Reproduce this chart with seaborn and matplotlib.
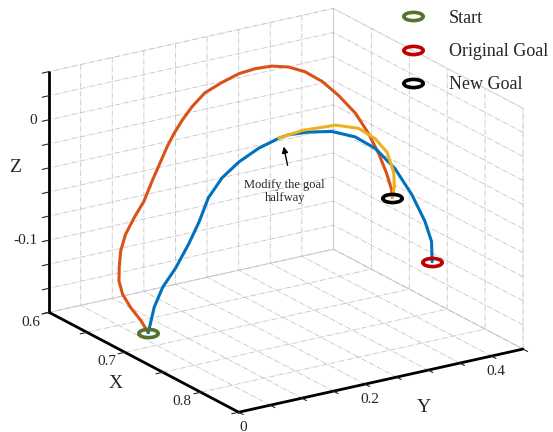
import matplotlib
matplotlib.use("Agg")
import matplotlib.pyplot as plt
import seaborn as sns
from matplotlib.path import Path
from matplotlib.transforms import Affine2D

# trajectories (x, y, z)
blue_x = [0.700, 0.702, 0.704, 0.707, 0.710, 0.713, 0.715, 0.719, 0.723, 0.728, 0.733,
          0.735, 0.740, 0.746, 0.752, 0.757, 0.762, 0.766, 0.769, 0.771, 0.771]
blue_y = [0.037, 0.044, 0.055, 0.072, 0.089, 0.102, 0.114, 0.131, 0.153, 0.178, 0.204,
          0.217, 0.242, 0.272, 0.302, 0.328, 0.353, 0.375, 0.392, 0.400, 0.401]
blue_z = [-0.148, -0.127, -0.111, -0.096, -0.077, -0.059, -0.040, -0.024, -0.012, -0.002, 0.005,
          0.007, 0.008, 0.007, 0.001, -0.010, -0.028, -0.051, -0.074, -0.091, -0.108]

orange_x = [0.700, 0.694, 0.688, 0.682, 0.678, 0.675, 0.672, 0.669, 0.668, 0.666, 0.664, 0.661,
            0.660, 0.659, 0.658, 0.658, 0.661, 0.663, 0.667, 0.671, 0.675, 0.679, 0.686, 0.696,
            0.708, 0.721, 0.734, 0.746, 0.756, 0.761]
orange_y = [0.037, 0.032, 0.024, 0.018, 0.017, 0.021, 0.027, 0.038, 0.053, 0.071, 0.086, 0.114,
            0.126, 0.140, 0.157, 0.177, 0.201, 0.225, 0.246, 0.267, 0.289, 0.310, 0.329, 0.343,
            0.355, 0.360, 0.361, 0.359, 0.355, 0.350]
orange_z = [-0.148, -0.139, -0.130, -0.120, -0.110, -0.100, -0.088, -0.077, -0.065, -0.054, -0.040, -0.015,
            -0.006, 0.003, 0.012, 0.021, 0.028, 0.033, 0.036, 0.037, 0.035, 0.030, 0.022, 0.012,
            0.000, -0.013, -0.026, -0.038, -0.048, -0.052]

yellow_x = [0.733, 0.739, 0.747, 0.753, 0.757, 0.760, 0.762, 0.762, 0.761]
yellow_y = [0.204, 0.234, 0.277, 0.306, 0.328, 0.343, 0.351, 0.352, 0.350]
yellow_z = [0.005, 0.010, 0.012, 0.008, -0.002, -0.014, -0.031, -0.043, -0.052]

start = (0.700, 0.037, -0.148)
orig_goal = (0.771, 0.401, -0.108)
new_goal = (0.761, 0.350, -0.052)

x_ticks = [0.6, 0.65, 0.7, 0.75, 0.8, 0.85]
x_labels = ["0.6", "", "0.7", "", "0.8", ""]
y_ticks = [0, 0.05, 0.1, 0.15, 0.2, 0.25, 0.3, 0.35, 0.4, 0.45]
y_labels = ["0", "", "", "", "0.2", "", "", "", "0.4", ""]
z_ticks = [-0.16, -0.14, -0.12, -0.10, -0.08, -0.06, -0.04, -0.02, 0, 0.02, 0.04]
z_labels = ["", "", "", "-0.1", "", "", "", "", "0", "", ""]

sns.set_style("white")
plt.rcParams["font.family"] = ["Liberation Serif", "DejaVu Serif"]
plt.rcParams["grid.color"] = "#c4c4c4"
plt.rcParams["grid.linestyle"] = "-."
plt.rcParams["grid.linewidth"] = 0.6

fig = plt.figure(figsize=(5.53, 4.32), dpi=100)
ax = fig.add_axes([0.127, 0.014, 0.76, 0.972], projection="3d")
ax.set_proj_type("ortho")
ax.view_init(elev=20, azim=-33)
ax.set_box_aspect((1, 0.974, 0.736), zoom=1.27)

ax.plot(orange_x, orange_y, orange_z, color="#D95319", lw=2.2)
ax.plot(blue_x, blue_y, blue_z, color="#0072BD", lw=2.2)
ax.plot(yellow_x, yellow_y, yellow_z, color="#EDB120", lw=2.2)

ring = Path.unit_circle().transformed(Affine2D().scale(1, 0.42))
ax.plot(*[[v] for v in start], ls="none", marker=ring, ms=14, mfc="none",
        mec="#56722e", mew=2.6, label="Start")
ax.plot(*[[v] for v in orig_goal], ls="none", marker=ring, ms=14, mfc="none",
        mec="#c00000", mew=2.6, label="Original Goal")
ax.plot(*[[v] for v in new_goal], ls="none", marker=ring, ms=14, mfc="none",
        mec="black", mew=2.6, label="New Goal")

ax.set_xlim(0.6, 0.85)
ax.set_ylim(0, 0.45)
ax.set_zlim(-0.16, 0.04)
ax.set_xticks(x_ticks, x_labels)
ax.set_yticks(y_ticks, y_labels)
ax.set_zticks(z_ticks, z_labels)
ax.zaxis.set_ticks_position("lower")
ax.zaxis.set_label_position("lower")
ax.xaxis.set_tick_params(labelsize=11, pad=-3)
ax.yaxis.set_tick_params(labelsize=11, pad=-4)
ax.zaxis.set_tick_params(labelsize=11, pad=-4)
for lbl in ax.get_xticklabels():
    lbl.set_ha("right")
    lbl.set_va("center")
for lbl in ax.get_zticklabels():
    lbl.set_ha("right")
    lbl.set_va("center_baseline")

for axis in (ax.xaxis, ax.yaxis, ax.zaxis):
    axis.pane.fill = False
    axis.pane.set_edgecolor("#c4c4c4")
    axis.pane.set_linestyle("-.")
    axis.pane.set_linewidth(0.6)
    axis.line.set_color("black")
    axis.line.set_linewidth(2)
    axis._axinfo["grid"].update(color="#c4c4c4", linestyle="-.", linewidth=0.6)
    axis._axinfo["tick"]["inward_factor"] = 0.3
    axis._axinfo["tick"]["outward_factor"] = 0.0

fig.text(15 / 553, 1 - 168 / 432, "Z", fontsize=14, ha="center", va="center")
fig.text(116 / 553, 1 - 383 / 432, "X", fontsize=14, ha="center", va="center")
fig.text(424 / 553, 1 - 408 / 432, "Y", fontsize=14, ha="center", va="center")

ax.annotate("", xy=(0.512, 0.667), xytext=(0.521, 0.611), xycoords="figure fraction",
            arrowprops=dict(arrowstyle="-|>", color="black", lw=1, mutation_scale=9))
fig.text(0.515, 0.556, "Modify the goal\nhalfway", fontsize=9, ha="center", va="center",
         linespacing=1.1)

ax.legend(loc="upper left", bbox_to_anchor=(0.685, 1.015), bbox_transform=fig.transFigure,
          frameon=False, fontsize=13, handletextpad=1.0, labelspacing=0.9)

fig.savefig("out.png", dpi=100)
